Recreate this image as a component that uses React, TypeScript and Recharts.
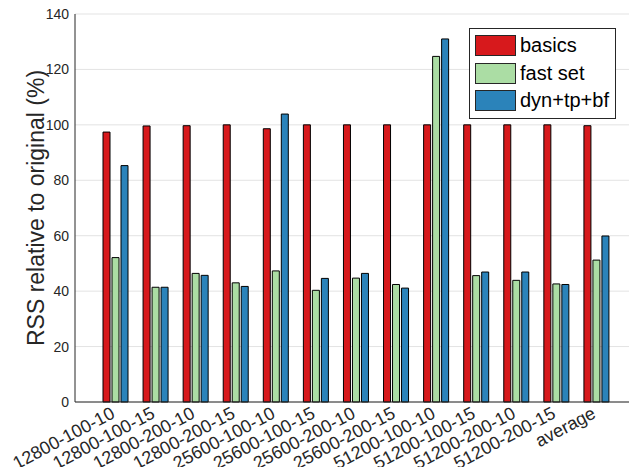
import { Bar, BarChart, CartesianGrid, Label, Legend, XAxis, YAxis } from "recharts";

// RSS per configuration (percent of original)
const CATEGORIES = [
  "12800-100-10",
  "12800-100-15",
  "12800-200-10",
  "12800-200-15",
  "25600-100-10",
  "25600-100-15",
  "25600-200-10",
  "25600-200-15",
  "51200-100-10",
  "51200-100-15",
  "51200-200-10",
  "51200-200-15",
  "average",
];
const BASICS = [97.4, 99.6, 99.7, 100, 98.6, 100, 100, 100, 100, 100, 100, 100, 99.7];
const FAST_SET = [52.1, 41.4, 46.4, 43.0, 47.3, 40.3, 44.7, 42.4, 124.7, 45.6, 43.9, 42.6, 51.2];
const DYN_TP_BF = [85.3, 41.4, 45.7, 41.7, 103.9, 44.6, 46.4, 41.1, 131.0, 46.9, 46.9, 42.4, 59.9];
const Y_TICKS = [0, 20, 40, 60, 80, 100, 120, 140];

const SERIES = [
  { key: "basics", name: "basics", color: "#D7191C" },
  { key: "fastSet", name: "fast set", color: "#ABDDA4" },
  { key: "dynTpBf", name: "dyn+tp+bf", color: "#2B83BA" },
];

const data = CATEGORIES.map((c, i) => ({
  name: c,
  basics: BASICS[i],
  fastSet: FAST_SET[i],
  dynTpBf: DYN_TP_BF[i],
}));

const FONT = "'Liberation Sans', Arial, Helvetica, sans-serif";
const INK = "#262626";

// rotated category label, right end of the baseline just below the tick
function XTick({ x, y, payload }: any) {
  const ex = x + 1;
  const ey = y + 15;
  return (
    <text
      x={ex}
      y={ey}
      textAnchor="end"
      transform={`rotate(-28, ${ex}, ${ey})`}
      fontSize={18}
      fontFamily={FONT}
      fill={INK}
    >
      {payload.value}
    </text>
  );
}

function LegendBox() {
  return (
    <div
      style={{
        border: `1px solid ${INK}`,
        background: "#fff",
        padding: "3px 6px 3px 5px",
        fontFamily: FONT,
        fontSize: 20,
        color: "#000",
      }}
    >
      {SERIES.map((s) => (
        <div key={s.key} style={{ display: "flex", alignItems: "center", height: 27.5 }}>
          <span
            style={{
              display: "inline-block",
              width: 39,
              height: 19,
              background: s.color,
              border: `1px solid ${INK}`,
              marginRight: 4,
            }}
          />
          <span>{s.name}</span>
        </div>
      ))}
    </div>
  );
}

export default function App() {
  return (
    <div style={{ margin: -8, width: 637, height: 475, background: "#fff" }}>
      <BarChart
        width={637}
        height={475}
        data={data}
        margin={{ top: 14, right: 1, bottom: 0, left: 0 }}
        barSize={7}
        barGap={2}
      >
        <CartesianGrid vertical={false} stroke="#e3e3e3" />
        <XAxis
          dataKey="name"
          height={73}
          interval={0}
          padding={{ left: 20, right: 20 }}
          tickSize={0}
          tickMargin={0}
          tickLine={false}
          axisLine={{ stroke: INK }}
          tick={<XTick />}
        />
        <XAxis
          xAxisId="bottomIn"
          dataKey="name"
          orientation="bottom"
          mirror
          height={0}
          interval={0}
          padding={{ left: 20, right: 20 }}
          tick={false}
          tickSize={5}
          tickLine={{ stroke: INK }}
          axisLine={false}
        />
        <XAxis
          xAxisId="top"
          dataKey="name"
          orientation="top"
          mirror
          height={0}
          interval={0}
          padding={{ left: 20, right: 20 }}
          tick={false}
          tickSize={5}
          tickLine={{ stroke: INK }}
          axisLine={{ stroke: INK }}
        />
        <YAxis
          width={75}
          domain={[0, 140]}
          ticks={Y_TICKS}
          tickSize={0}
          tickMargin={6}
          tickLine={false}
          axisLine={{ stroke: INK }}
          tick={{ fontSize: 14, fontFamily: FONT, fill: INK }}
        >
          <Label
            value="RSS relative to original (%)"
            angle={-90}
            position="center"
            dx={-2}
            style={{ fontSize: 23, fontFamily: FONT, fill: INK, textAnchor: "middle" }}
          />
        </YAxis>
        <YAxis
          yAxisId="leftIn"
          orientation="left"
          mirror
          width={0}
          domain={[0, 140]}
          ticks={Y_TICKS}
          tick={false}
          tickSize={5}
          tickLine={{ stroke: INK }}
          axisLine={false}
        />
        <YAxis
          yAxisId="right"
          orientation="right"
          mirror
          width={0}
          domain={[0, 140]}
          ticks={Y_TICKS}
          tick={false}
          tickSize={5}
          tickLine={{ stroke: INK }}
          axisLine={{ stroke: INK }}
        />
        <Legend
          layout="horizontal"
          align="center"
          verticalAlign="middle"
          content={<LegendBox />}
          wrapperStyle={{ position: "absolute", left: 469, top: 28, width: "auto" }}
        />
        {SERIES.map((s) => (
          <Bar
            key={s.key}
            dataKey={s.key}
            name={s.name}
            fill={s.color}
            stroke="#000"
            strokeWidth={1}
            isAnimationActive={false}
          />
        ))}
      </BarChart>
    </div>
  );
}
